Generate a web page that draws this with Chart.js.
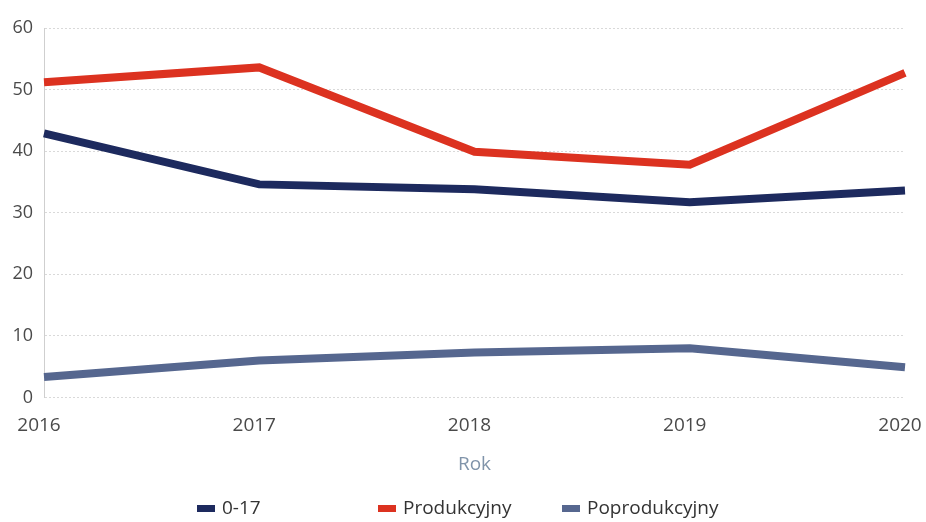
<!DOCTYPE html>
<html><head><meta charset="utf-8">
<script src="https://cdn.jsdelivr.net/npm/chart.js@4/dist/chart.umd.min.js"></script>
<style>html,body{margin:0;padding:0;background:#fff;}canvas{display:block;}</style>
</head><body>
<canvas id="c" width="926" height="522"></canvas>
<script>
const years = ['2016','2017','2018','2019','2020'];
const age0_17 = [42.9, 34.6, 33.8, 31.7, 33.6];
const produkcyjny = [51.2, 53.6, 39.9, 37.8, 52.7];
const poprodukcyjny = [3.3, 6.0, 7.3, 8.0, 4.9];
const seriesNames = ['0-17', 'Produkcyjny', 'Poprodukcyjny'];
const xTitle = 'Rok';

const colors = ['#1d2a5e', '#dc3220', '#56678f'];
const legendX = [197, 378, 562];

const ds = [age0_17, produkcyjny, poprodukcyjny].map((d, i) => ({
  label: seriesNames[i], data: d, borderColor: colors[i], backgroundColor: colors[i],
  borderWidth: 8, pointRadius: 0, tension: 0, borderJoinStyle: 'miter', borderCapStyle: 'butt'
}));

const customLegend = {
  id: 'customLegend',
  afterDraw(chart) {
    const ctx = chart.ctx;
    ctx.save();
    ctx.font = '19px "Open Sans"';
    ctx.textBaseline = 'alphabetic';
    ctx.textAlign = 'left';
    chart.data.datasets.forEach((d, i) => {
      const x = legendX[i];
      ctx.fillStyle = d.borderColor;
      ctx.fillRect(x, 505, 18, 7);
      ctx.fillStyle = '#333';
      ctx.fillText(d.label, x + 25, 514);
    });
    ctx.restore();
  }
};

new Chart(document.getElementById('c'), {
  type: 'line',
  data: { labels: years, datasets: ds },
  plugins: [customLegend],
  options: {
    responsive: false, animation: false,
    layout: { padding: { left: 0, right: 21, top: 28, bottom: 46 } },
    plugins: {
      tooltip: { enabled: false },
      legend: { display: false }
    },
    scales: {
      x: {
        offset: false,
        afterFit(scale) { scale.paddingRight = 0; scale.paddingLeft = 0; },
        grid: { display: false },
        border: { display: false },
        ticks: { color: '#4a4a4a', font: { family: 'Open Sans', size: 19 }, padding: 9, maxRotation: 0, labelOffset: -5 },
        title: { display: true, text: xTitle, color: '#8094aa', font: { family: 'Open Sans', size: 19 }, padding: { top: 7, bottom: 0 } }
      },
      y: {
        min: 0, max: 60,
        afterFit(scale) { scale.width = 44; },
        ticks: { stepSize: 10, color: '#4a4a4a', font: { family: 'Open Sans', size: 18 }, padding: 11 },
        grid: { color: '#d9d9d9', lineWidth: 1, drawTicks: false },
        border: { display: true, color: '#cfcfcf', dash: [2, 2] }
      }
    }
  }
});
</script>
</body></html>
